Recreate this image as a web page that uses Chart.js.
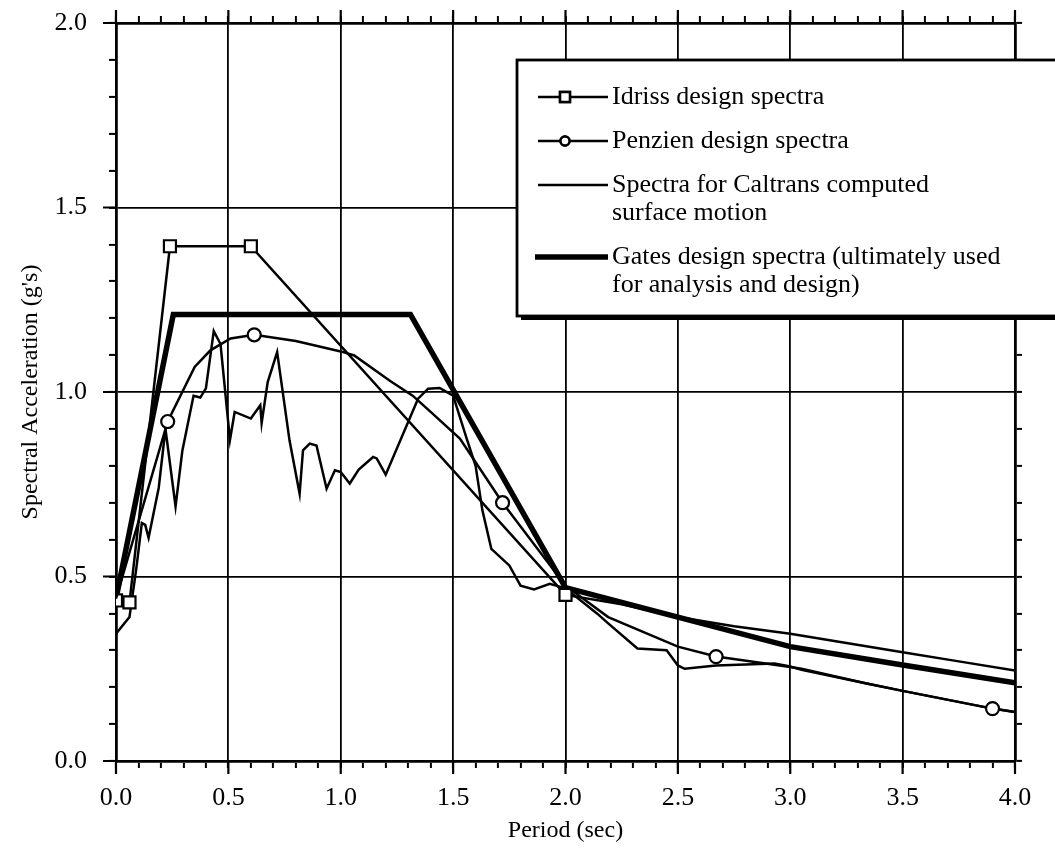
<!DOCTYPE html>
<html>
<head>
<meta charset="utf-8">
<script src="https://cdn.jsdelivr.net/npm/chart.js@4.4.1/dist/chart.umd.min.js"></script>
<style>
  html, body { margin: 0; padding: 0; background: #fff; }
  #wrap { width: 1055px; height: 851px; }
</style>
</head>
<body>
<div id="wrap"><canvas id="chart" width="1055" height="851"></canvas></div>
<script>
// ================= DATA =================
// Idriss design spectra (squares on the first five points)
const idrissT  = [0.0, 0.06, 0.24, 0.60, 2.0, 2.25, 2.5, 2.75, 3.0, 3.25, 3.5, 3.75, 4.0];
const idrissSa = [0.435, 0.43, 1.395, 1.395, 0.45, 0.425, 0.39, 0.365, 0.345, 0.32, 0.295, 0.27, 0.245];
const idrissMarks = [0, 1, 2, 3, 4];

// Penzien design spectra (circles on some points)
const penzienT  = [0.0, 0.23, 0.35, 0.42, 0.51, 0.615, 0.80, 1.0, 1.06, 1.22, 1.32, 1.40, 1.53, 1.72, 2.0, 2.19, 2.5, 2.67, 3.0, 3.05, 3.34, 3.5, 3.9, 4.0];
const penzienSa = [0.44, 0.92, 1.068, 1.113, 1.145, 1.155, 1.138, 1.11, 1.099, 1.03, 0.99, 0.946, 0.874, 0.70, 0.475, 0.39, 0.31, 0.283, 0.255, 0.25, 0.21, 0.19, 0.142, 0.133];
const penzienMarks = [1, 5, 13, 17, 22];

// Spectra for Caltrans computed surface motion
const caltransT  = [0.0, 0.06, 0.09, 0.115, 0.13, 0.145, 0.19, 0.22, 0.265, 0.295, 0.345, 0.375, 0.40, 0.435, 0.465, 0.507, 0.528, 0.60, 0.642, 0.648, 0.675, 0.717, 0.772, 0.817, 0.832, 0.862, 0.892, 0.937, 0.974, 1.0, 1.04, 1.08, 1.144, 1.16, 1.20, 1.344, 1.389, 1.44, 1.50, 1.56, 1.60, 1.63, 1.67, 1.75, 1.80, 1.86, 1.93, 2.0, 2.14, 2.19, 2.32, 2.45, 2.50, 2.53, 2.67, 2.93, 3.0, 3.05, 3.34, 3.5, 3.9, 4.0];
const caltransSa = [0.345, 0.39, 0.52, 0.645, 0.64, 0.605, 0.74, 0.90, 0.69, 0.84, 0.99, 0.985, 1.01, 1.165, 1.13, 0.87, 0.946, 0.928, 0.964, 0.916, 1.027, 1.108, 0.869, 0.724, 0.842, 0.86, 0.855, 0.738, 0.788, 0.783, 0.752, 0.79, 0.824, 0.82, 0.776, 0.982, 1.009, 1.011, 0.99, 0.874, 0.80, 0.68, 0.575, 0.53, 0.475, 0.465, 0.48, 0.468, 0.40, 0.373, 0.305, 0.30, 0.259, 0.25, 0.259, 0.264, 0.256, 0.247, 0.21, 0.19, 0.142, 0.133];

// Gates design spectra
const gatesT  = [0.0, 0.255, 1.31, 2.0, 2.5, 3.0, 3.5, 4.0];
const gatesSa = [0.44, 1.21, 1.21, 0.47, 0.39, 0.31, 0.26, 0.212];

const seriesNames = [
  ["Idriss design spectra"],
  ["Penzien design spectra"],
  ["Spectra for Caltrans computed", "surface motion"],
  ["Gates design spectra (ultimately used", "for analysis and design)"]
];

const xTitle = "Period (sec)";
const yTitle = "Spectral Acceleration (g's)";

// ================= HELPERS =================
const pts = (t, sa) => t.map((v, i) => ({ x: v, y: sa[i] }));
const markRadius = (marks, r) => ctx => marks.includes(ctx.dataIndex) ? r : 0;
const isMajor = v => Math.abs(v * 2 - Math.round(v * 2)) < 1e-6;
const serif = "'Liberation Serif', 'DejaVu Serif', serif";

Chart.defaults.font.family = serif;
Chart.defaults.color = "#000";

// fixed box size for a scale, and no extra room for overhanging end labels
const fixSize = (w, h) => s => {
  if (w !== null) s.width = w;
  if (h !== null) s.height = h;
  s.paddingTop = s.paddingBottom = s.paddingLeft = s.paddingRight = 0;
};

// ================= LEGEND (boxed, inside the plot) =================
const boxLegend = {
  id: "boxLegend",
  afterDraw(chart, args, o) {
    const ctx = chart.ctx;
    ctx.save();
    ctx.fillStyle = "#000";
    ctx.fillRect(o.left + 4, o.top + 4, o.width, o.height);
    ctx.fillStyle = "#fff";
    ctx.fillRect(o.left, o.top, o.width, o.height);
    ctx.lineWidth = 2.8;
    ctx.strokeStyle = "#000";
    ctx.strokeRect(o.left, o.top, o.width, o.height);

    let y = o.firstRow;
    ctx.font = `${o.fontSize}px ${serif}`;
    ctx.textBaseline = "middle";
    ctx.textAlign = "left";
    chart.data.datasets.forEach(ds => {
      ctx.beginPath();
      ctx.lineWidth = ds.borderWidth;
      ctx.strokeStyle = "#000";
      const from = ds.borderWidth > 3 ? o.sampleFrom - 3 : o.sampleFrom;
      ctx.moveTo(from, y);
      ctx.lineTo(o.sampleTo, y);
      ctx.stroke();
      if (ds.legendMarker) {
        Chart.helpers.drawPoint(ctx, {
          pointStyle: ds.pointStyle, radius: ds.legendMarker, borderWidth: 2.2
        }, (o.sampleFrom + o.sampleTo) / 2 - 8, y);
        ctx.fillStyle = "#fff";
        ctx.fill();
        ctx.stroke();
      }
      ctx.fillStyle = "#000";
      ds.legendText.forEach((line, k) => ctx.fillText(line, o.textX, y + k * o.lineHeight));
      y += o.rowGap + (ds.legendText.length - 1) * o.lineHeight;
    });
    ctx.restore();
  }
};

// longer outward marks at the labelled (0.5) ticks
const majorTicks = {
  id: "majorTicks",
  afterDatasetsDraw(chart, args, o) {
    const ctx = chart.ctx;
    const { left, top, bottom } = chart.chartArea;
    ctx.save();
    ctx.strokeStyle = "#000";
    ctx.lineWidth = 2.2;
    ctx.beginPath();
    chart.scales.x.ticks.forEach(t => {
      if (!isMajor(t.value)) return;
      const px = chart.scales.x.getPixelForValue(t.value);
      ctx.moveTo(px, bottom); ctx.lineTo(px, bottom + o.len);
      ctx.moveTo(px, top); ctx.lineTo(px, top - o.len);
    });
    chart.scales.y.ticks.forEach(t => {
      if (!isMajor(t.value)) return;
      const py = chart.scales.y.getPixelForValue(t.value);
      ctx.moveTo(left, py); ctx.lineTo(left - o.len, py);
    });
    ctx.stroke();
    ctx.restore();
  }
};

// ================= AXES =================
const gridStyle = (drawArea) => ({
  drawOnChartArea: drawArea,
  color: c => isMajor(c.tick.value) ? "#000" : "rgba(0,0,0,0)",
  lineWidth: 1.8,
  tickColor: "#000",
  tickWidth: 2,
  tickLength: 7
});
const tickFont = { size: 26 };

const scales = {
  x: {
    type: "linear", position: "bottom", min: 0, max: 4,
    ticks: { stepSize: 0.1, autoSkip: false, maxRotation: 0, font: tickFont, padding: 15,
             callback: v => isMajor(v) ? v.toFixed(1) : "" },
    grid: gridStyle(true),
    border: { display: true, color: "#000", width: 2.8 },
    title: { display: true, text: xTitle, font: { size: 24 }, padding: { top: 0, bottom: 6 } },
    afterFit: fixSize(null, 90)
  },
  x2: {
    type: "linear", position: "top", min: 0, max: 4,
    ticks: { stepSize: 0.1, autoSkip: false, maxRotation: 0, callback: () => "" },
    grid: gridStyle(false),
    border: { display: true, color: "#000", width: 2.8 },
    afterFit: fixSize(null, 23)
  },
  y: {
    type: "linear", position: "left", min: 0, max: 2,
    ticks: { stepSize: 0.1, autoSkip: false, font: tickFont, padding: 22,
             callback: v => isMajor(v) ? v.toFixed(1) : "" },
    grid: gridStyle(true),
    border: { display: true, color: "#000", width: 2.8 },
    title: { display: true, text: yTitle, font: { size: 24 }, padding: { top: 16, bottom: 0 } },
    afterFit: fixSize(116, null)
  },
  y2: {
    type: "linear", position: "right", min: 0, max: 2,
    ticks: { stepSize: 0.1, autoSkip: false, callback: () => "" },
    grid: gridStyle(false),
    border: { display: true, color: "#000", width: 2.8 },
    afterFit: fixSize(40, null)
  }
};

// ================= CHART =================
const base = { showLine: true, borderColor: "#000", pointBackgroundColor: "#fff",
               pointBorderColor: "#000", pointBorderWidth: 2.2, tension: 0, fill: false };

new Chart(document.getElementById("chart"), {
  type: "line",
  data: {
    datasets: [
      { ...base, label: seriesNames[0].join(" "), legendText: seriesNames[0],
        data: pts(idrissT, idrissSa), borderWidth: 2.5, pointStyle: "rect",
        pointRadius: markRadius(idrissMarks, 8.5), legendMarker: 7, order: 1 },
      { ...base, label: seriesNames[1].join(" "), legendText: seriesNames[1],
        data: pts(penzienT, penzienSa), borderWidth: 2.5, pointStyle: "circle",
        pointRadius: markRadius(penzienMarks, 6.5), legendMarker: 4.5, order: 0 },
      { ...base, label: seriesNames[2].join(" "), legendText: seriesNames[2],
        data: pts(caltransT, caltransSa), borderWidth: 2.5, pointRadius: 0, order: 2 },
      { ...base, label: seriesNames[3].join(" "), legendText: seriesNames[3],
        data: pts(gatesT, gatesSa), borderWidth: 5.5, pointRadius: 0, order: 3 }
    ]
  },
  options: {
    responsive: false,
    animation: false,
    devicePixelRatio: 1,
    layout: { padding: 0, autoPadding: false },
    scales,
    plugins: {
      legend: { display: false },
      tooltip: { enabled: false },
      majorTicks: { len: 13 },
      boxLegend: {
        left: 517, top: 60, width: 560, height: 256,
        sampleFrom: 538, sampleTo: 608, textX: 612,
        firstRow: 97, rowGap: 44, lineHeight: 28, fontSize: 26
      }
    }
  },
  plugins: [majorTicks, boxLegend]
});
</script>
</body>
</html>
